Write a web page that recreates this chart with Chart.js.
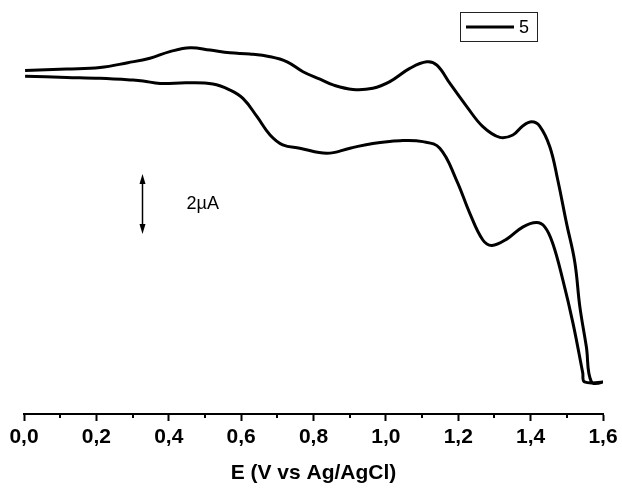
<!DOCTYPE html>
<html>
<head>
<meta charset="utf-8">
<script src="https://cdn.jsdelivr.net/npm/chart.js@4.4.0/dist/chart.umd.min.js"></script>
<style>
  html, body { margin: 0; padding: 0; background: #fff; }
</style>
</head>
<body>
<canvas id="cv" width="622" height="492"></canvas>
<script>
// forward scan (upper branch), potential in V and current in µA (arbitrary offset)
const eForward = [0.003, 0.118, 0.210, 0.287, 0.348, 0.403, 0.459, 0.514, 0.569, 0.624, 0.680, 0.727, 0.771, 0.818, 0.854, 0.909, 0.964, 1.011, 1.066, 1.113, 1.141, 1.177, 1.224, 1.268, 1.315, 1.351, 1.378, 1.403, 1.425, 1.453, 1.475, 1.499, 1.522, 1.536, 1.554, 1.568, 1.600];
const iForward = [11.45, 11.50, 11.55, 11.71, 11.86, 12.08, 12.21, 12.13, 12.04, 12.00, 11.91, 11.74, 11.41, 11.16, 10.97, 10.82, 10.86, 11.08, 11.52, 11.74, 11.63, 11.02, 10.24, 9.58, 9.22, 9.30, 9.60, 9.74, 9.60, 8.91, 7.80, 6.37, 5.07, 3.58, 2.24, 1.07, 1.07];

// reverse scan (lower branch)
const eReverse = [1.549, 1.544, 1.517, 1.489, 1.461, 1.439, 1.416, 1.378, 1.334, 1.293, 1.268, 1.232, 1.195, 1.149, 1.102, 1.039, 0.964, 0.901, 0.837, 0.762, 0.715, 0.680, 0.644, 0.605, 0.569, 0.522, 0.450, 0.376, 0.329, 0.301, 0.210, 0.118, 0.003];
const iReverse = [1.07, 1.37, 3.03, 4.47, 5.69, 6.24, 6.38, 6.23, 5.83, 5.62, 5.80, 6.69, 7.80, 8.86, 9.08, 9.11, 9.02, 8.86, 8.69, 8.86, 8.97, 9.30, 9.91, 10.52, 10.80, 11.00, 11.04, 11.02, 11.10, 11.13, 11.19, 11.22, 11.26];

const tickLabels = ['0,0', '0,2', '0,4', '0,6', '0,8', '1,0', '1,2', '1,4', '1,6'];
const seriesLabel = '5';
const scaleBar = { e: 0.325, from: 6.0, to: 8.0, text: '2µA' };

const points = eForward.map((e, i) => ({ x: e, y: iForward[i] }))
  .concat(eReverse.map((e, i) => ({ x: e, y: iReverse[i] })));

const FONT = '"Liberation Sans", Arial, sans-serif';

// minor ticks, scale bar and boxed legend
const extras = {
  id: 'extras',
  afterDraw(chart) {
    const ctx = chart.ctx;
    const xs = chart.scales.x, ys = chart.scales.y;
    const bottom = chart.chartArea.bottom;
    ctx.save();
    ctx.strokeStyle = '#000';
    ctx.lineWidth = 2;
    xs.ticks.forEach((t, i) => {
      if (i % 2 === 1) {
        const px = Math.round(xs.getPixelForValue(t.value));
        ctx.beginPath();
        ctx.moveTo(px, bottom);
        ctx.lineTo(px, bottom + 4);
        ctx.stroke();
      }
    });

    // scale bar
    const bx = Math.round(xs.getPixelForValue(scaleBar.e)) + 0.5;
    const y1 = ys.getPixelForValue(scaleBar.to);
    const y2 = ys.getPixelForValue(scaleBar.from);
    ctx.lineWidth = 1.5;
    ctx.beginPath();
    ctx.moveTo(bx, y1 + 6);
    ctx.lineTo(bx, y2 - 6);
    ctx.stroke();
    ctx.fillStyle = '#000';
    ctx.beginPath();
    ctx.moveTo(bx, y1); ctx.lineTo(bx - 3, y1 + 10); ctx.lineTo(bx + 3, y1 + 10); ctx.closePath();
    ctx.fill();
    ctx.beginPath();
    ctx.moveTo(bx, y2); ctx.lineTo(bx - 3, y2 - 10); ctx.lineTo(bx + 3, y2 - 10); ctx.closePath();
    ctx.fill();
    ctx.font = '18px ' + FONT;
    ctx.textBaseline = 'middle';
    ctx.textAlign = 'left';
    ctx.fillText(scaleBar.text, bx + 44, (y1 + y2) / 2);

    // legend box
    ctx.lineWidth = 1;
    ctx.strokeStyle = '#222';
    ctx.strokeRect(460.5, 12.5, 77, 29);
    ctx.lineWidth = 3;
    ctx.strokeStyle = '#000';
    ctx.beginPath();
    ctx.moveTo(466, 27);
    ctx.lineTo(514, 27);
    ctx.stroke();
    ctx.fillText(chart.data.datasets[0].label, 519, 28);
    ctx.restore();
  }
};

new Chart(document.getElementById('cv'), {
  type: 'scatter',
  data: {
    datasets: [{
      label: seriesLabel,
      data: points,
      showLine: true,
      borderColor: '#000',
      backgroundColor: '#000',
      borderWidth: 3,
      pointRadius: 0,
      tension: 0.4,
      fill: false
    }]
  },
  options: {
    responsive: false,
    animation: false,
    layout: { padding: { left: 24, right: 19, top: 4, bottom: 0 } },
    plugins: {
      legend: { display: false },
      tooltip: { enabled: false }
    },
    scales: {
      x: {
        type: 'linear',
        min: 0,
        max: 1.6,
        afterFit: (s) => { s.height = 78; },
        ticks: {
          stepSize: 0.1,
          autoSkip: false,
          maxRotation: 0,
          padding: 4,
          color: '#000',
          font: { family: FONT, size: 21, weight: 'bold' },
          callback: (v, i) => (i % 2 === 0 ? tickLabels[i / 2] : '')
        },
        grid: {
          drawOnChartArea: false,
          drawTicks: true,
          tickLength: 7,
          tickWidth: 2,
          tickColor: (c) => (c.index % 2 === 0 ? '#000' : 'rgba(0,0,0,0)')
        },
        border: { display: true, color: '#000', width: 2 },
        title: {
          display: true,
          text: 'E (V vs Ag/AgCl)',
          color: '#000',
          font: { family: FONT, size: 21, weight: 'bold' },
          padding: { top: 0, bottom: 6 }
        }
      },
      y: {
        type: 'linear',
        display: false,
        min: 0,
        max: 13.667
      }
    }
  },
  plugins: [extras]
});
</script>
</body>
</html>
